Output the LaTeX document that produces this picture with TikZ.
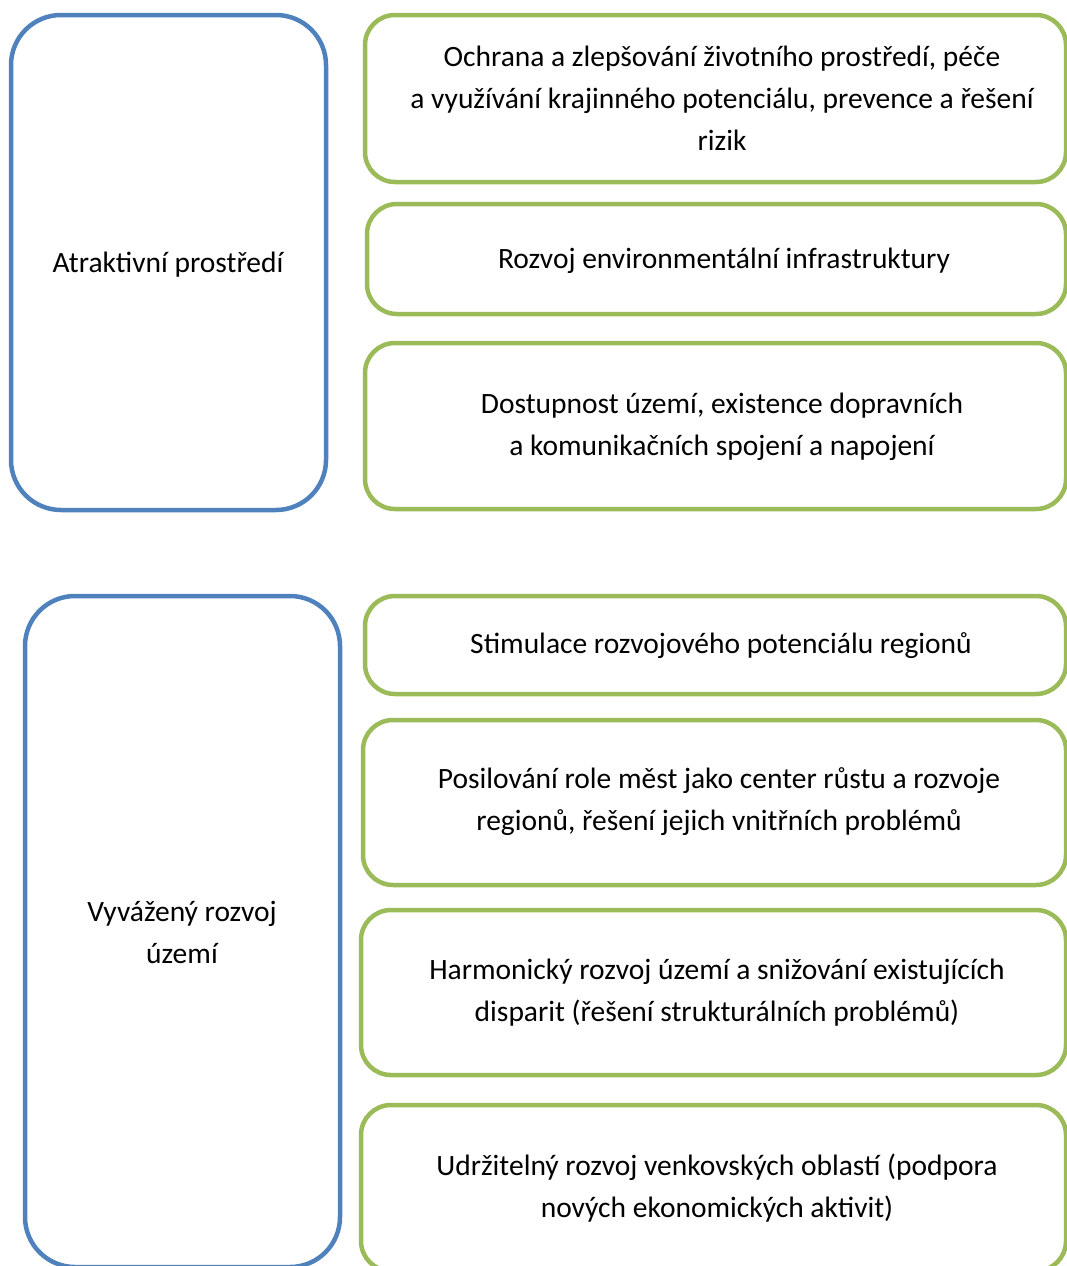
\documentclass[tikz,border=0pt]{standalone}
\usepackage{fontspec}
\setmainfont{Carlito}
\begin{document}
\begin{tikzpicture}[x=1pt,y=-1pt,
  pillar/.style={draw=pillarblue,line width=4.5pt,rounded corners=50pt},
  measure/.style={draw=measuregreen,line width=4.5pt,rounded corners=30pt},
  caption/.style={font=\fontsize{29.5}{42}\selectfont,align=center,inner sep=0pt,text=black}]
\definecolor{pillarblue}{HTML}{4F81BD}
\definecolor{measuregreen}{HTML}{9BBB59}
\useasboundingbox (0,0) rectangle (1067,1266);
\clip (0,0) rectangle (1067,1266);
% left pillars
\draw[pillar] (11,15) rectangle (326,510);
\draw[pillar] (25,596) rectangle (340,1267);
\node[caption] (p1) at (168,265) {Atraktivní prostředí};
\node[caption] (p2) at (182,932) {Vyvážený rozvoj\\území};
% measures of the first pillar
\draw[measure] (365,15) rectangle (1066,182);
\draw[measure] (367,204) rectangle (1066,314);
\draw[measure] (365,343) rectangle (1066,509);
\node[caption] (m1) at (722,98) {Ochrana a zlepšování životního prostředí, péče\\a využívání krajinného potenciálu, prevence a řešení\\rizik};
\node[caption] (m2) at (724,261) {Rozvoj environmentální infrastruktury};
\node[caption] (m3) at (722,427) {Dostupnost území, existence dopravních\\a komunikačních spojení a napojení};
% measures of the second pillar
\draw[measure] (365,596) rectangle (1066,694);
\draw[measure] (363,720) rectangle (1066,885);
\draw[measure] (361,910) rectangle (1066,1075);
\draw[measure] (361,1105) rectangle (1066,1271);
\node[caption] (m4) at (721,646) {Stimulace rozvojového potenciálu regionů};
\node[caption] (m5) at (719,802) {Posilování role měst jako center růstu a rozvoje\\regionů, řešení jejich vnitřních problémů};
\node[caption] (m6) at (717,993) {Harmonický rozvoj území a snižování existujících\\disparit (řešení strukturálních problémů)};
\node[caption] (m7) at (717,1188) {Udržitelný rozvoj venkovských oblastí (podpora\\nových ekonomických aktivit)};
\end{tikzpicture}
\end{document}
